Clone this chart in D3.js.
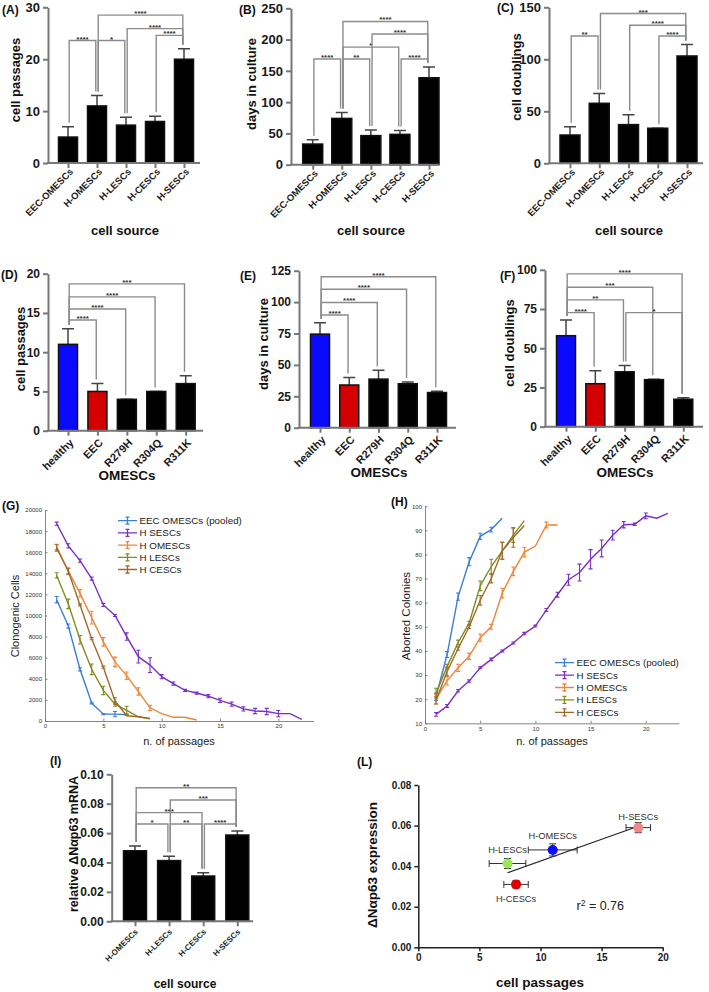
<!DOCTYPE html>
<html>
<head>
<meta charset="utf-8">
<script src="https://cdn.jsdelivr.net/npm/d3@7"></script>
<style>
  body { margin: 0; background: #fff; }
  svg text { font-family: "Liberation Sans", Arial, sans-serif; }
</style>
</head>
<body>
<div id="fig"></div>
<script>
// ---- data ----
const cellSources = ["EEC-OMESCs", "H-OMESCs", "H-LESCs", "H-CESCs", "H-SESCs"];
const passages = [5, 11, 7.3, 8, 20];
const passagesErr = [2, 2, 1.5, 1, 2];
const daysCulture = [33, 74, 46.5, 48.5, 139];
const daysCultureErr = [7, 9.5, 9, 6, 17];
const doublings = [27.2, 57.7, 37.2, 33.7, 103.2];
const doublingsErr = [8, 9.5, 9.5, 0, 11];

const omescGroups = ["healthy", "EEC", "R279H", "R304Q", "R311K"];
const omescPassages = [11, 5, 4, 5, 6];
const omescPassagesErr = [2, 1, 0, 0, 1];
const omescDays = [74.5, 34, 38.7, 35, 28];
const omescDaysErr = [9, 6, 7, 1.3, 1];
const omescDoublings = [58, 27.4, 35, 30, 17.5];
const omescDoublingsErr = [10, 8.3, 4, 0.3, 1];

// significance brackets: [from, to, level, stars]
const sigA = [[0, 1, 23.6, "****"], [1, 2, 23.6, "*"], [3, 4, 24.6, "****"], [2, 4, 25.9, "****"], [1, 4, 28.5, "****"]];
const sigB = [[0, 1, 169, "****"], [1, 2, 169, "**"], [3, 4, 169, "****"], [1, 3, 188, "*"], [2, 4, 209, "****"], [1, 4, 229, "****"]];
const sigC = [[0, 1, 122.4, "**"], [3, 4, 122.4, "****"], [2, 4, 132.7, "****"], [1, 4, 144, "***"]];
const sigD = [[0, 1, 14.1, "****"], [0, 2, 15.5, "****"], [0, 3, 17.05, "****"], [0, 4, 18.7, "***"]];
const sigE = [[0, 1, 89.7, "****"], [0, 2, 99.7, "****"], [0, 3, 110.2, "****"], [0, 4, 120.2, "****"]];
const sigF = [[0, 1, 72.7, "****"], [0, 2, 80.8, "**"], [0, 3, 88.9, "***"], [0, 4, 97.4, "****"], [2, 4, 72.7, "*"]];

const seriesNames = ["EEC OMESCs (pooled)", "H SESCs", "H OMESCs", "H LESCs", "H CESCs"];
const clonoEEC = [11500, 9000, 4900, 1700, 650, 650, 600];
const clonoEECErr = [300, 200, 150, 80, 60, 250, 80];
const clonoSESC = [18700, 16600, 15200, 13500, 11000, 10000, 8000, 6100, 5300, 4200, 3550, 2900, 2650, 2350, 1950, 1600, 1150, 950, 900, 700, 700, 150];
const clonoSESCErr = [150, 200, 150, 150, 150, 100, 350, 600, 700, 200, 150, 100, 100, 150, 200, 200, 200, 250, 300, 300, 0, 0];
const clonoOMESC = [16500, 14200, 12100, 9800, 7500, 5600, 4300, 2800, 1250, 700, 350, 350, 100];
const clonoOMESCErr = [250, 250, 350, 600, 400, 450, 350, 350, 250, 0, 0, 0, 0];
const clonoLESC = [13800, 11100, 7700, 4900, 2900, 1600, 1000, 400, 200];
const clonoLESCErr = [250, 450, 400, 500, 400, 200, 400, 0, 0];
const clonoCESC = [16400, 14200, 11000, 7800, 5100, 1900, 500, 400, 250];
const clonoCESCErr = [300, 300, 100, 100, 100, 300, 0, 0, 0];

const abortEEC = [21, 38.5, 62.5, 77, 87.5, 90.3, 95];
const abortEECErr = [1.5, 1.2, 1.5, 1.7, 1.3, 1, 0];
const abortSESC = [13.7, 17.2, 23.5, 27.5, 33, 36.5, 40, 43.3, 47.2, 50.3, 57, 63.3, 69.5, 72.5, 78, 82.5, 88, 92.3, 92.5, 96, 95, 97];
const abortSESCErr = [0.8, 0.6, 0.5, 0.5, 0.4, 0.5, 0.4, 0.4, 0.5, 0.4, 0.6, 1, 2.3, 3.5, 4, 3.5, 2, 1.3, 0.5, 1.2, 0, 0];
const abortOMESC = [20, 27.7, 33, 37.8, 45.5, 50, 64, 73, 81, 83.5, 92.2, 92.2];
const abortOMESCErr = [2, 1.8, 1.5, 1.3, 1.5, 1, 2, 1.8, 2, 0, 1.2, 0];
const abortLESC = [22.5, 33.5, 43.5, 51.5, 67, 75, 81.5, 88, 94];
const abortLESCErr = [2, 1, 1, 0.8, 2, 3, 3.5, 3, 0];
const abortCESC = [19.5, 31.5, 41, 50, 61, 70, 81.5, 87, 92];
const abortCESCErr = [1.5, 1.8, 0.7, 0.7, 2, 1.8, 3.5, 4, 0];

const mrnaSources = ["H-OMESCs", "H-LESCs", "H-CESCs", "H-SESCs"];
const mrna = [0.048, 0.0413, 0.0308, 0.0587];
const mrnaErr = [0.0033, 0.0029, 0.0023, 0.0027];
const sigI = [[0, 1, 0.0662, "*"], [1, 2, 0.0662, "**"], [2, 3, 0.0662, "****"], [0, 2, 0.0739, "***"], [1, 3, 0.0825, "***"], [0, 3, 0.0909, "**"]];

const corrNames = ["H-OMESCs", "H-LESCs", "H-CESCs", "H-SESCs"];
const corrPassages = [11, 7.3, 8, 18];
const corrPassagesErr = [2, 1.5, 1, 1];
const corrExpr = [0.048, 0.0413, 0.031, 0.059];
const corrExprErr = [0.003, 0.0025, 0.0018, 0.0025];

// ---- styles ----
const lineColors = ["#3b7fd6", "#7b2fc4", "#f0843a", "#7f8c1e", "#a3692c"];
const omescColors = ["#0a0aff", "#d40000", "#000", "#000", "#000"];
const corrColors = ["#0a0aff", "#98e858", "#e00000", "#f08a8a"];

const svg = d3.select("#fig").append("svg")
  .attr("width", 709).attr("height", 992)
  .style("background", "#fff");

function label(x, y, s, fs, opts = {}) {
  const t = svg.append("text")
    .attr("x", x).attr("y", y).attr("dy", "0.35em")
    .attr("font-size", fs)
    .attr("font-weight", opts.normal ? "normal" : "bold")
    .attr("fill", opts.fill || "#111")
    .attr("text-anchor", opts.anchor || "middle")
    .text(s);
  if (opts.rot) t.attr("transform", `rotate(${opts.rot},${x},${y})`);
  return t;
}

// GraphPad-like bar chart with significance brackets
function barPanel(p) {
  const g = svg.append("g");
  const x = d3.scalePoint().domain(p.cats).range(p.centers);
  const y = d3.scaleLinear().domain(p.domain).range(p.yRange);
  const top = p.values.map((v, i) => v + p.errs[i]);

  p.sig.forEach(([a, b, lev, stars]) => {
    const xa = x(p.cats[a]) + 1.2, xb = x(p.cats[b]) - 1.2, yl = y(lev);
    g.append("path")
      .attr("d", `M${xa},${y(top[a]) - 4}V${yl}H${xb}V${y(top[b]) - 4}`)
      .attr("fill", "none").attr("stroke", "#8c8c8c").attr("stroke-width", 1.4);
    g.append("text")
      .attr("x", (xa + xb) / 2).attr("y", yl + 1)
      .attr("text-anchor", "middle").attr("font-size", 8).attr("font-weight", "bold")
      .attr("fill", "#333").text(stars);
  });

  g.selectAll(".err").data(p.values).join("path")
    .attr("d", (d, i) => {
      const cx = x(p.cats[i]), y1 = y(d), y2 = y(d + p.errs[i]);
      return `M${cx},${y1}V${y2}M${cx - 6},${y2}H${cx + 6}`;
    })
    .attr("fill", "none").attr("stroke", "#444").attr("stroke-width", 1.5);

  g.selectAll(".bar").data(p.values).join("rect")
    .attr("x", (d, i) => x(p.cats[i]) - p.bw / 2)
    .attr("y", d => y(d))
    .attr("width", p.bw)
    .attr("height", d => y(0) - y(d))
    .attr("fill", (d, i) => p.colors ? p.colors[i] : "#000")
    .attr("stroke", "#111").attr("stroke-width", 1.5);

  const ya = g.append("g").attr("transform", `translate(${p.xAxis[0]},0)`)
    .call(d3.axisLeft(y).tickValues(p.ticks).tickSize(5).tickSizeOuter(0)
      .tickFormat(p.fmt || d3.format("d")));
  ya.select(".domain").attr("stroke", "#777").attr("stroke-width", 2);
  ya.selectAll(".tick line").attr("stroke", "#777").attr("stroke-width", 2);
  ya.selectAll("text").attr("font-size", p.tickFs).attr("font-weight", "bold").attr("fill", "#1a1a1a");

  g.append("line")
    .attr("x1", p.xAxis[0] - 1).attr("x2", p.xAxis[1])
    .attr("y1", y(0)).attr("y2", y(0))
    .attr("stroke", "#777").attr("stroke-width", 2);
  const xa = g.append("g").attr("transform", `translate(0,${y(0)})`)
    .call(d3.axisBottom(x).tickSize(5).tickSizeOuter(0));
  xa.select(".domain").remove();
  xa.selectAll(".tick line").attr("stroke", "#777").attr("stroke-width", 2);
  xa.selectAll("text")
    .attr("x", 0).attr("y", 0).attr("dy", "0.35em")
    .attr("transform", `translate(${p.lblOff[0]},${p.lblOff[1]}) rotate(-45)`)
    .style("text-anchor", "end")
    .attr("font-size", p.lblFs).attr("font-weight", "bold").attr("fill", "#1a1a1a");
}

// MATLAB-like line chart with error bars
function linePanel(p) {
  const g = svg.append("g");
  const x = d3.scaleLinear().domain([0, 23]).range(p.xRange);
  const y = d3.scaleLinear().domain(p.yDomain).range(p.yRange);

  const xa = g.append("g").attr("transform", `translate(0,${p.yRange[0]})`)
    .call(d3.axisBottom(x).tickValues([0, 5, 10, 15, 20]).tickSize(-2.5).tickSizeOuter(0));
  const ya = g.append("g").attr("transform", `translate(${p.xRange[0]},0)`)
    .call(d3.axisLeft(y).tickValues(p.yTicks).tickSize(-2.5).tickSizeOuter(0).tickFormat(d3.format("d")));
  [xa, ya].forEach(a => {
    a.selectAll(".domain, .tick line").attr("stroke", "#666").attr("stroke-width", 0.8);
    a.selectAll("text").attr("font-size", 6).attr("fill", "#333");
  });

  p.series.forEach((s, k) => {
    const pts = s.values.map((v, i) => ({ n: i + 1, v, e: s.errs[i] }));
    g.append("path").datum(pts)
      .attr("d", d3.line().x(d => x(d.n)).y(d => y(d.v)))
      .attr("fill", "none").attr("stroke", lineColors[k]).attr("stroke-width", 1.4);
    g.selectAll(null).data(pts.filter(d => d.e > 0)).join("path")
      .attr("d", d => {
        const cx = x(d.n), y1 = y(d.v - d.e), y2 = y(d.v + d.e);
        return `M${cx},${y1}V${y2}M${cx - 2},${y1}H${cx + 2}M${cx - 2},${y2}H${cx + 2}`;
      })
      .attr("fill", "none").attr("stroke", lineColors[k]).attr("stroke-width", 1.1);
  });

  seriesNames.forEach((name, k) => {
    const ly = p.legend[1] + k * p.legend[2], lx = p.legend[0];
    g.append("path")
      .attr("d", `M${lx},${ly}H${lx + 19}M${lx + 9.5},${ly - 3.5}V${ly + 3.5}M${lx + 7.5},${ly - 3.5}H${lx + 11.5}M${lx + 7.5},${ly + 3.5}H${lx + 11.5}`)
      .attr("fill", "none").attr("stroke", lineColors[k]).attr("stroke-width", 1.3);
    g.append("text").attr("x", lx + 21.5).attr("y", ly).attr("dy", "0.35em")
      .attr("font-size", 9.8).attr("fill", "#222").text(name);
  });
}

// ---- row 1 ----
barPanel({ cats: cellSources, values: passages, errs: passagesErr, sig: sigA,
  centers: [68, 184], bw: 19, domain: [0, 30], yRange: [163, 7.3], xAxis: [48, 200],
  ticks: [0, 10, 20, 30], tickFs: 13, lblFs: 9.5, lblOff: [3, 7] });
barPanel({ cats: cellSources, values: daysCulture, errs: daysCultureErr, sig: sigB,
  centers: [312.7, 429], bw: 20, domain: [0, 250], yRange: [164.7, 8.3], xAxis: [291, 439],
  ticks: [0, 50, 100, 150, 200, 250], tickFs: 13, lblFs: 9.5, lblOff: [3, 7] });
barPanel({ cats: cellSources, values: doublings, errs: doublingsErr, sig: sigC,
  centers: [570, 687], bw: 20, domain: [0, 150], yRange: [163.3, 7.3], xAxis: [549, 703],
  ticks: [0, 50, 100, 150], tickFs: 13, lblFs: 9.5, lblOff: [3, 7] });

// ---- row 2 ----
barPanel({ cats: omescGroups, values: omescPassages, errs: omescPassagesErr, sig: sigD, colors: omescColors,
  centers: [68, 185.7], bw: 19, domain: [0, 20], yRange: [430.7, 273.7], xAxis: [48, 203],
  ticks: [0, 5, 10, 15, 20], tickFs: 12, lblFs: 11, lblOff: [3, 10] });
barPanel({ cats: omescGroups, values: omescDays, errs: omescDaysErr, sig: sigE, colors: omescColors,
  centers: [320, 437], bw: 19, domain: [0, 125], yRange: [427.7, 270.7], xAxis: [299, 456],
  ticks: [0, 25, 50, 75, 100, 125], tickFs: 12, lblFs: 11, lblOff: [3, 10] });
barPanel({ cats: omescGroups, values: omescDoublings, errs: omescDoublingsErr, sig: sigF, colors: omescColors,
  centers: [566, 683.3], bw: 19, domain: [0, 100], yRange: [426.7, 269.8], xAxis: [545, 703],
  ticks: [0, 25, 50, 75, 100], tickFs: 12, lblFs: 11, lblOff: [3, 10] });

// ---- row 3 ----
linePanel({ xRange: [45, 313.4], yDomain: [0, 20000], yRange: [721, 510],
  yTicks: d3.range(0, 20001, 2000), legend: [118, 520.7, 12.2],
  series: [
    { values: clonoEEC, errs: clonoEECErr }, { values: clonoSESC, errs: clonoSESCErr },
    { values: clonoOMESC, errs: clonoOMESCErr }, { values: clonoLESC, errs: clonoLESCErr },
    { values: clonoCESC, errs: clonoCESCErr }] });
linePanel({ xRange: [425, 678.9], yDomain: [10, 100], yRange: [723.3, 506.2],
  yTicks: d3.range(10, 101, 10), legend: [555, 662.7, 12.4],
  series: [
    { values: abortEEC, errs: abortEECErr }, { values: abortSESC, errs: abortSESCErr },
    { values: abortOMESC, errs: abortOMESCErr }, { values: abortLESC, errs: abortLESCErr },
    { values: abortCESC, errs: abortCESCErr }] });

// ---- row 4 ----
barPanel({ cats: mrnaSources, values: mrna, errs: mrnaErr, sig: sigI,
  centers: [135, 237.3], bw: 23, domain: [0, 0.1], yRange: [921.3, 774.3], xAxis: [111.7, 253],
  ticks: [0, 0.02, 0.04, 0.06, 0.08, 0.1], fmt: d3.format(".2f"), tickFs: 12, lblFs: 8, lblOff: [1, 9] });

// (L) correlation scatter
(function () {
  const g = svg.append("g");
  const x = d3.scaleLinear().domain([0, 20]).range([418.3, 662.7]);
  const y = d3.scaleLinear().domain([0, 0.08]).range([947.3, 785]);
  const xa = g.append("g").attr("transform", `translate(0,${y(0)})`)
    .call(d3.axisBottom(x).tickValues([0, 5, 10, 15, 20]).tickSize(4).tickSizeOuter(0));
  const ya = g.append("g").attr("transform", `translate(${x(0)},0)`)
    .call(d3.axisLeft(y).tickValues([0, 0.02, 0.04, 0.06, 0.08]).tickSize(4).tickSizeOuter(0).tickFormat(d3.format(".2f")));
  [xa, ya].forEach(a => {
    a.selectAll(".domain, .tick line").attr("stroke", "#222").attr("stroke-width", 1.5);
    a.selectAll("text").attr("font-size", 10).attr("font-weight", "bold").attr("fill", "#1a1a1a");
  });

  // least-squares fit over the four points
  const mx = d3.mean(corrPassages), my = d3.mean(corrExpr);
  const sxy = d3.sum(corrPassages, (v, i) => (v - mx) * (corrExpr[i] - my));
  const sxx = d3.sum(corrPassages, v => (v - mx) ** 2);
  const slope = sxy / sxx, icpt = my - slope * mx;
  const [x0, x1] = d3.extent(corrPassages);
  g.append("line")
    .attr("x1", x(x0)).attr("y1", y(icpt + slope * x0))
    .attr("x2", x(x1)).attr("y2", y(icpt + slope * x1))
    .attr("stroke", "#222").attr("stroke-width", 1.1);

  const pts = corrNames.map((n, i) => ({ n, px: corrPassages[i], pe: corrPassagesErr[i], ex: corrExpr[i], ee: corrExprErr[i], c: corrColors[i] }));
  g.selectAll(".xe").data(pts).join("path")
    .attr("d", d => {
      const a = x(d.px - d.pe), b = x(d.px + d.pe), cy = y(d.ex);
      const t = y(d.ex + d.ee), u = y(d.ex - d.ee), cx = x(d.px);
      return `M${a},${cy}H${b}M${a},${cy - 3.5}V${cy + 3.5}M${b},${cy - 3.5}V${cy + 3.5}` +
        `M${cx},${t}V${u}M${cx - 3.5},${t}H${cx + 3.5}M${cx - 3.5},${u}H${cx + 3.5}`;
    })
    .attr("fill", "none").attr("stroke", "#333").attr("stroke-width", 1);
  g.selectAll(".pt").data(pts).join("circle")
    .attr("cx", d => x(d.px)).attr("cy", d => y(d.ex)).attr("r", 5)
    .attr("fill", d => d.c);

  const lblDy = { "H-OMESCs": -14, "H-LESCs": -14, "H-CESCs": 14, "H-SESCs": -11 };
  g.selectAll(".pl").data(pts).join("text")
    .attr("x", d => x(d.px)).attr("y", d => y(d.ex) + lblDy[d.n]).attr("dy", "0.35em")
    .attr("text-anchor", "middle").attr("font-size", 9.3).attr("fill", "#333").text(d => d.n);

  const r = g.append("text").attr("x", 576.5).attr("y", 905.7).attr("dy", "0.35em")
    .attr("font-size", 12.5).attr("fill", "#222");
  r.append("tspan").text("r");
  r.append("tspan").attr("font-size", 8.5).attr("dy", "-0.45em").text("2");
  r.append("tspan").attr("dy", "0.3em").text(" = 0.76");
})();

// ---- titles and panel letters ----
[["(A)", 2, 10], ["(B)", 239, 10], ["(C)", 497, 8], ["(D)", 1, 275], ["(E)", 240, 276], ["(F)", 500, 276],
 ["(G)", 2, 506], ["(H)", 391, 502], ["(I)", 50, 761], ["(L)", 357, 762]]
  .forEach(([s, x, y]) => label(x, y, s, 12, { anchor: "start" }));

label(15, 80, "cell passages", 13, { rot: -90 });
label(251, 84, "days in culture", 13, { rot: -90 });
label(516, 77, "cell doublings", 13, { rot: -90 });
label(125, 230, "cell source", 13);
label(371, 230, "cell source", 13);
label(629, 230, "cell source", 13);

label(20, 349, "cell passages", 13, { rot: -90 });
label(263, 344, "days in culture", 13, { rot: -90 });
label(509, 343, "cell doublings", 13, { rot: -90 });
label(127, 475, "OMESCs", 13.5);
label(379, 472, "OMESCs", 13.5);
label(625, 472, "OMESCs", 13.5);

label(15, 616, "Clonogenic Cells", 11, { rot: -90, normal: true, fill: "#222" });
label(179, 741, "n. of passages", 11, { normal: true, fill: "#222" });
label(406, 616, "Aborted Colonies", 11.5, { rot: -90, normal: true, fill: "#222" });
label(552, 741, "n. of passages", 11, { normal: true, fill: "#222" });

label(74, 844, "relative ΔNαp63 mRNA", 12.5, { rot: -90 });
label(185, 984, "cell source", 12);
label(372, 865, "ΔNαp63 expression", 13.5, { rot: -90 });
label(540, 982, "cell passages", 13.5);
</script>
</body>
</html>
